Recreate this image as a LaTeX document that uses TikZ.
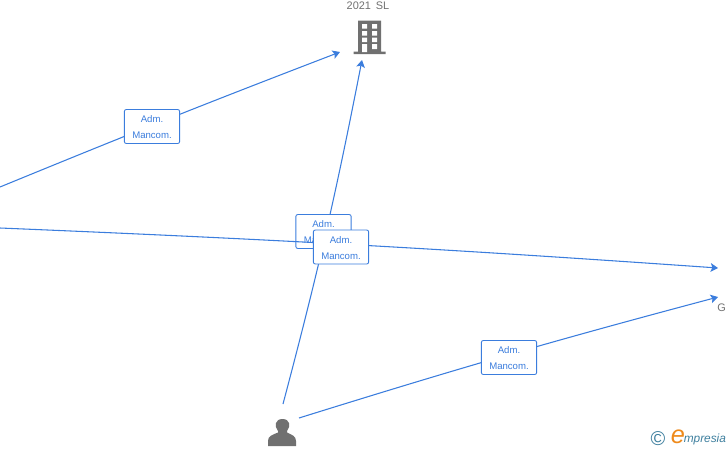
\documentclass[tikz,border=0pt]{standalone}
\usepackage{fontspec}
\setmainfont{Liberation Sans}
\usetikzlibrary{arrows.meta}
\definecolor{linkblue}{HTML}{3B7DDD}
\definecolor{icongray}{HTML}{707070}
\definecolor{logoteal}{HTML}{3E7F9E}
\definecolor{logoorange}{HTML}{EE8A1C}
\newcommand{\rolelabel}{\rule{0pt}{6.7pt}Adm.\\Mancom.}
\tikzset{
    link/.style={draw=linkblue, line width=0.8pt, -{Stealth[length=5.5pt,width=6.5pt,inset=1.2pt]}},
    rolebox/.style={draw=linkblue, fill=white, rounded corners=1.5pt, line width=0.65pt, text=linkblue, font=\fontsize{7.2}{12}\selectfont, minimum width=41.5pt, minimum height=25.5pt, inner sep=0pt, align=center},
    caption/.style={text=icongray, font=\fontsize{8.2}{9}\selectfont, inner sep=0pt}
}
\begin{document}
\begin{tikzpicture}[x=0.75pt, y=-0.75pt]
    \useasboundingbox (0,0) rectangle (728,450);
    % Free ends
    \coordinate (ownerA) at (0,187);
    \coordinate (ownerB) at (0,228);
    \coordinate (personTop) at (283,404);
    \coordinate (personSide) at (299,418);
    \coordinate (firmA) at (340,52);
    \coordinate (firmB) at (362,60);
    \coordinate (groupA) at (718,268);
    \coordinate (groupB) at (718,297);
    % Links
    \draw[link] (ownerA) to[bend left=0.65] (firmA);
    \node[rolebox] (roleA) at (152,126.5) {\rolelabel};
    \draw[link] (personTop) to[bend right=1.9] (firmB);
    \node[rolebox] (roleB) at (323.5,231.5) {\rolelabel};
    \draw[link] (ownerB) to[bend left=0.8] (groupA);
    \node[rolebox] (roleC) at (341,247) {\rolelabel};
    \draw[link] (personSide) to[bend left=1.2] (groupB);
    \node[rolebox] (roleD) at (509,357.5) {\rolelabel};
    % Company
    \node[caption] (firmName) at (368,6) {2021\hspace{0.45em}SL};
    \fill[icongray] (358,20.5) rectangle (381,52) (353.5,51.5) rectangle (385.5,54);
    \fill[white] \foreach \wy in {24,31,37.5} {(362,\wy) rectangle (367,\wy+4.5) (372,\wy) rectangle (377,\wy+4.5)}
        (362,44) rectangle (367,52) (372,44) rectangle (377,49);
    % Person
    \fill[icongray] (268,446) -- (268,441) .. controls (268,436) and (272,435) .. (278,432.5) -- (278,431) .. controls (274,426) and (275,419) .. (282.5,419) .. controls (290,419) and (291,426) .. (287,431) -- (287,432.5) .. controls (292,435) and (296,436) .. (296,441) -- (296,446) -- cycle;
    % Cut-off name
    \node[caption, anchor=west] (groupName) at (717,308) {G};
    % Logo
    \node[text=logoteal, font=\fontsize{15}{15}\selectfont, inner sep=0pt] (logoMark) at (658,439) {©};
    \node[text=logoorange, font=\fontsize{19}{19}\selectfont\itshape, inner sep=0pt] (logoE) at (678,437) {e};
    \node[text=logoteal, font=\fontsize{8.9}{10}\selectfont\itshape, inner sep=0pt, anchor=base west] (logoText) at (683.5,442.5) {mpresia};
\end{tikzpicture}
\end{document}
